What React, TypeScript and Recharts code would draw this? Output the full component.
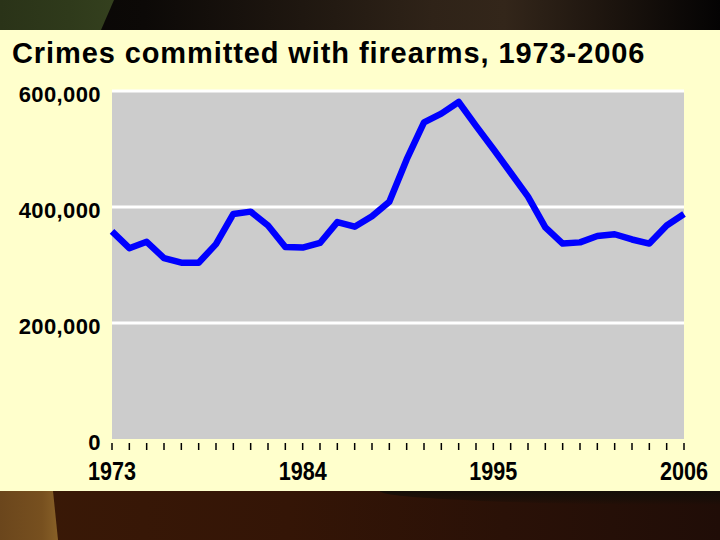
import React from "react";
import {
  LineChart,
  Line,
  XAxis,
  YAxis,
  ReferenceArea,
  ReferenceLine,
} from "recharts";

const YEARS = [
  1973, 1974, 1975, 1976, 1977, 1978, 1979, 1980, 1981, 1982, 1983, 1984,
  1985, 1986, 1987, 1988, 1989, 1990, 1991, 1992, 1993, 1994, 1995, 1996,
  1997, 1998, 1999, 2000, 2001, 2002, 2003, 2004, 2005, 2006,
];
const CRIMES = [
  358000, 329000, 340000, 312000, 304000, 304000, 336000, 388000, 392000,
  368000, 331000, 330000, 338000, 374000, 366000, 384000, 409000, 482000,
  546000, 561000, 581000, 540000, 500000, 459000, 418000, 365000, 337000,
  339000, 350000, 353000, 344000, 337000, 368000, 388000,
];
const X_LABEL_YEARS = [1973, 1984, 1995, 2006];
const Y_TICKS = [0, 200000, 400000, 600000];
const GRID_VALUES = [200000, 400000, 600000];
const TITLE = "Crimes committed with firearms, 1973-2006";

const data = YEARS.map((year, i) => ({ year, crimes: CRIMES[i] }));

const boldFont = "'Liberation Sans', Arial, sans-serif";

const XTick = (props: any) => {
  const { x, y, payload } = props;
  const show = X_LABEL_YEARS.includes(payload.value);
  return (
    <g>
      <line x1={x} x2={x} y1={y + 4} y2={y + 11} stroke="#000" strokeWidth={1.5} />
      {show && (
        <text
          transform={`translate(${x}, ${y + 41}) scale(0.83, 1)`}
          x={0}
          y={0}
          textAnchor="middle"
          fontFamily={boldFont}
          fontWeight="bold"
          fontSize={26}
          fill="#000"
        >
          {payload.value}
        </text>
      )}
    </g>
  );
};

const YTick = (props: any) => {
  const { x, y, payload } = props;
  return (
    <text
      x={x - 11}
      y={y + 11}
      textAnchor="end"
      fontFamily={boldFont}
      fontWeight="bold"
      fontSize={22}
      letterSpacing={0.4}
      fill="#000"
    >
      {Number(payload.value).toLocaleString("en-US")}
    </text>
  );
};

export default function App() {
  return (
    <div
      style={{
        position: "absolute",
        left: 0,
        top: 0,
        width: 720,
        height: 540,
        overflow: "hidden",
        background: "#000",
      }}
    >
      {/* top band */}
      <div
        style={{
          position: "absolute",
          left: 0,
          top: 0,
          width: 720,
          height: 30,
          background:
            "linear-gradient(to right, #070504 0%, #0c0907 20%, #1f1710 42%, #2f2318 60%, #33261a 70%, #1c140e 85%, #040303 100%)",
        }}
      />
      <div
        style={{
          position: "absolute",
          left: 0,
          top: 0,
          width: 115,
          height: 30,
          clipPath: "polygon(0 0, 114px 0, 101px 30px, 0 30px)",
          background: "linear-gradient(to right, #2a3318 0%, #2f3a1b 60%, #34401e 100%)",
        }}
      />
      {/* bottom band */}
      <div
        style={{
          position: "absolute",
          left: 0,
          top: 491,
          width: 720,
          height: 49,
          background:
            "linear-gradient(to right, #3a1906 0%, #341506 40%, #2a1107 70%, #200d07 100%)",
        }}
      />
      <div
        style={{
          position: "absolute",
          left: 380,
          top: 491,
          width: 340,
          height: 14,
          background:
            "linear-gradient(to bottom, rgba(18,14,8,0.9) 0%, rgba(18,14,8,0.5) 60%, rgba(18,14,8,0) 100%)",
          borderBottomLeftRadius: "100% 100%",
        }}
      />
      <div
        style={{
          position: "absolute",
          left: 0,
          top: 491,
          width: 60,
          height: 49,
          clipPath: "polygon(0 0, 53px 0, 58px 49px, 0 49px)",
          background: "linear-gradient(to right, #6b461c 0%, #77501f 70%, #8a6228 100%)",
        }}
      />
      {/* yellow panel */}
      <div
        style={{
          position: "absolute",
          left: 0,
          top: 30,
          width: 720,
          height: 461,
          background: "#FFFFCC",
        }}
      />
      <div
        style={{
          position: "absolute",
          left: 0,
          top: 0,
        }}
      >
        <LineChart
          width={720}
          height={540}
          data={data}
          margin={{ top: 91, right: 36, bottom: 51, left: 0 }}
        >
          <XAxis
            dataKey="year"
            type="number"
            domain={[1973, 2006]}
            ticks={YEARS}
            interval={0}
            axisLine={false}
            tickLine={false}
            tickSize={0}
            tickMargin={0}
            height={50}
            tick={<XTick />}
          />
          <YAxis
            type="number"
            domain={[0, 600000]}
            ticks={Y_TICKS}
            interval={0}
            axisLine={false}
            tickLine={false}
            tickSize={0}
            tickMargin={0}
            width={112}
            tick={<YTick />}
          />
          <ReferenceArea
            y1={0}
            y2={600000}
            fill="#CCCCCC"
            fillOpacity={1}
            stroke="none"
          />
          {GRID_VALUES.map((v) => (
            <ReferenceLine key={v} y={v} stroke="#FFFFFF" strokeWidth={3} />
          ))}
          <Line
            type="linear"
            dataKey="crimes"
            stroke="#0000FF"
            strokeWidth={6.5}
            strokeLinejoin="round"
            dot={false}
            activeDot={false}
            isAnimationActive={false}
          />
        </LineChart>
      </div>
      <div
        style={{
          position: "absolute",
          left: 12,
          top: 39,
          fontFamily: boldFont,
          fontWeight: "bold",
          fontSize: 29,
          lineHeight: "29px",
          letterSpacing: "0.9px",
          whiteSpace: "nowrap",
          color: "#000",
        }}
      >
        {TITLE}
      </div>
    </div>
  );
}
